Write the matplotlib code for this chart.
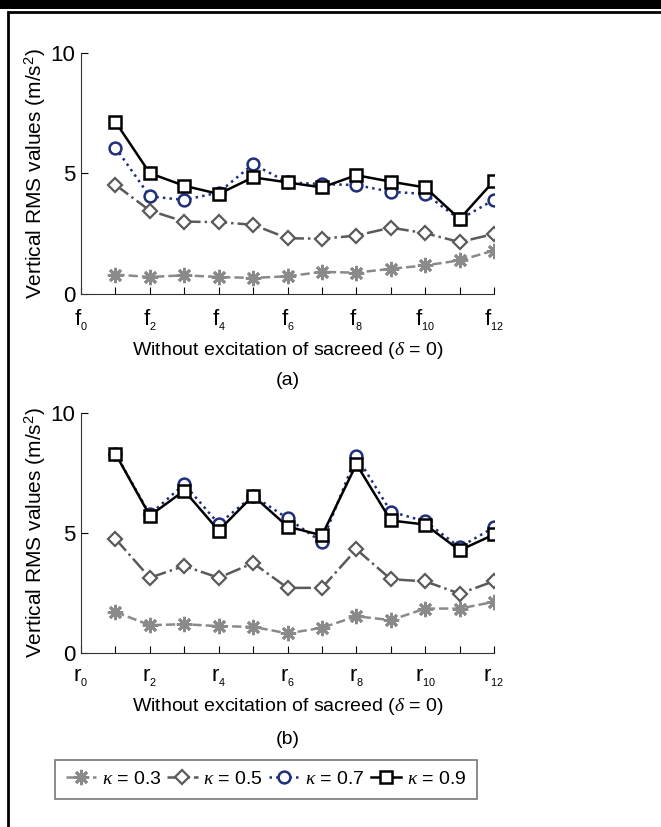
import matplotlib
matplotlib.use("Agg")
import matplotlib.pyplot as plt
from matplotlib.patches import Rectangle
import numpy as np

plt.rcParams['font.family'] = ['Liberation Sans', 'DejaVu Sans']
plt.rcParams['mathtext.fontset'] = 'custom'
plt.rcParams['mathtext.rm'] = 'Liberation Sans'
plt.rcParams['mathtext.it'] = 'Liberation Serif:italic'

# positions 1..12
idx = list(range(1, 13))

# panel (a)
a_k03 = [0.79, 0.69, 0.76, 0.69, 0.65, 0.72, 0.90, 0.87, 1.03, 1.17, 1.38, 1.79]
a_k05 = [4.52, 3.45, 2.99, 2.97, 2.86, 2.30, 2.28, 2.41, 2.74, 2.51, 2.14, 2.48]
a_k07 = [6.07, 4.04, 3.89, 4.20, 5.38, 4.62, 4.55, 4.51, 4.23, 4.14, 3.08, 3.90]
a_k09 = [7.14, 5.00, 4.48, 4.14, 4.83, 4.62, 4.41, 4.92, 4.65, 4.41, 3.10, 4.69]

# panel (b)
b_k03 = [1.72, 1.17, 1.21, 1.13, 1.10, 0.83, 1.06, 1.54, 1.38, 1.86, 1.86, 2.14]
b_k05 = [4.76, 3.14, 3.63, 3.14, 3.75, 2.72, 2.72, 4.32, 3.08, 2.99, 2.48, 3.00]
b_k07 = [8.30, 5.77, 7.03, 5.38, 6.55, 5.61, 4.62, 8.20, 5.89, 5.48, 4.41, 5.24]
b_k09 = [8.30, 5.72, 6.76, 5.10, 6.55, 5.27, 4.90, 7.86, 5.52, 5.35, 4.28, 4.94]

kappas = ["0.3", "0.5", "0.7", "0.9"]
a_f_labels = [r"f$_{_{%d}}$" % i if i % 2 == 0 else "" for i in range(13)]
b_r_labels = [r"r$_{_{%d}}$" % i if i % 2 == 0 else "" for i in range(13)]

styles = [
    dict(color="#8a8a8a", ls="--", marker=(8, 2, 0), ms=11, mew=2.0),
    dict(color="#5a5a5a", ls="-.", marker="D", ms=7.5, mew=1.6, mfc="white"),
    dict(color="#1f2f7a", ls=":", marker="o", ms=8.5, mew=1.8, mfc="white"),
    dict(color="black", ls="-", marker="s", ms=8.5, mew=1.8, mfc="white"),
]

fig = plt.figure(figsize=(6.61, 8.27), dpi=100)

# frame around the figure
fig.patches.append(Rectangle((0, 1 - 9 / 827), 1, 9 / 827, transform=fig.transFigure,
                             facecolor="black", edgecolor="none"))
fig.patches.append(Rectangle((8 / 661, -0.01), 1.0, 1 - 12 / 827 + 0.01, transform=fig.transFigure,
                             facecolor="none", edgecolor="black", lw=2.0))

def draw_panel(ax, series, labels, tag):
    lines = []
    for vals, st, k in zip(series, styles, kappas):
        ln, = ax.plot(idx, vals, lw=1.8, label=r"$\kappa$ = " + k, **st)
        lines.append(ln)
    ax.set_xlim(0, 12)
    ax.set_ylim(0, 10)
    ax.set_yticks([0, 5, 10])
    ax.set_xticks(range(13))
    ax.set_xticklabels(labels)
    for s in ["top", "right"]:
        ax.spines[s].set_visible(False)
    ax.spines["left"].set_color("#333333")
    ax.spines["bottom"].set_color("#333333")
    ax.tick_params(direction="in", length=5, labelsize=16, pad=4)
    ax.tick_params(axis="x", labelsize=16, pad=10)
    ax.set_ylabel("Vertical RMS values (m/s$^2$)", fontsize=15, labelpad=2)
    ax.set_xlabel(r"Without excitation of sacreed ($\delta$ = 0)", fontsize=14, labelpad=5)
    ax.text(0.5, -0.36, tag, transform=ax.transAxes, ha="center", va="center", fontsize=14)
    return lines

ax1 = fig.add_axes([0.1225, 0.645, 0.625, 0.291])
draw_panel(ax1, [a_k03, a_k05, a_k07, a_k09], a_f_labels, "(a)")

ax2 = fig.add_axes([0.1225, 0.210, 0.625, 0.291])
lines = draw_panel(ax2, [b_k03, b_k05, b_k07, b_k09], b_r_labels, "(b)")

leg = fig.legend(handles=lines, loc="center", bbox_to_anchor=(266 / 661, 1 - 779 / 827),
                 ncol=4, fontsize=14, frameon=True, fancybox=False, edgecolor="#555555",
                 handlelength=1.55, handletextpad=0.3, columnspacing=0.3, borderpad=0.55,
                 borderaxespad=0.0)
leg.get_frame().set_linewidth(1.2)

fig.savefig("out.png", dpi=100)
